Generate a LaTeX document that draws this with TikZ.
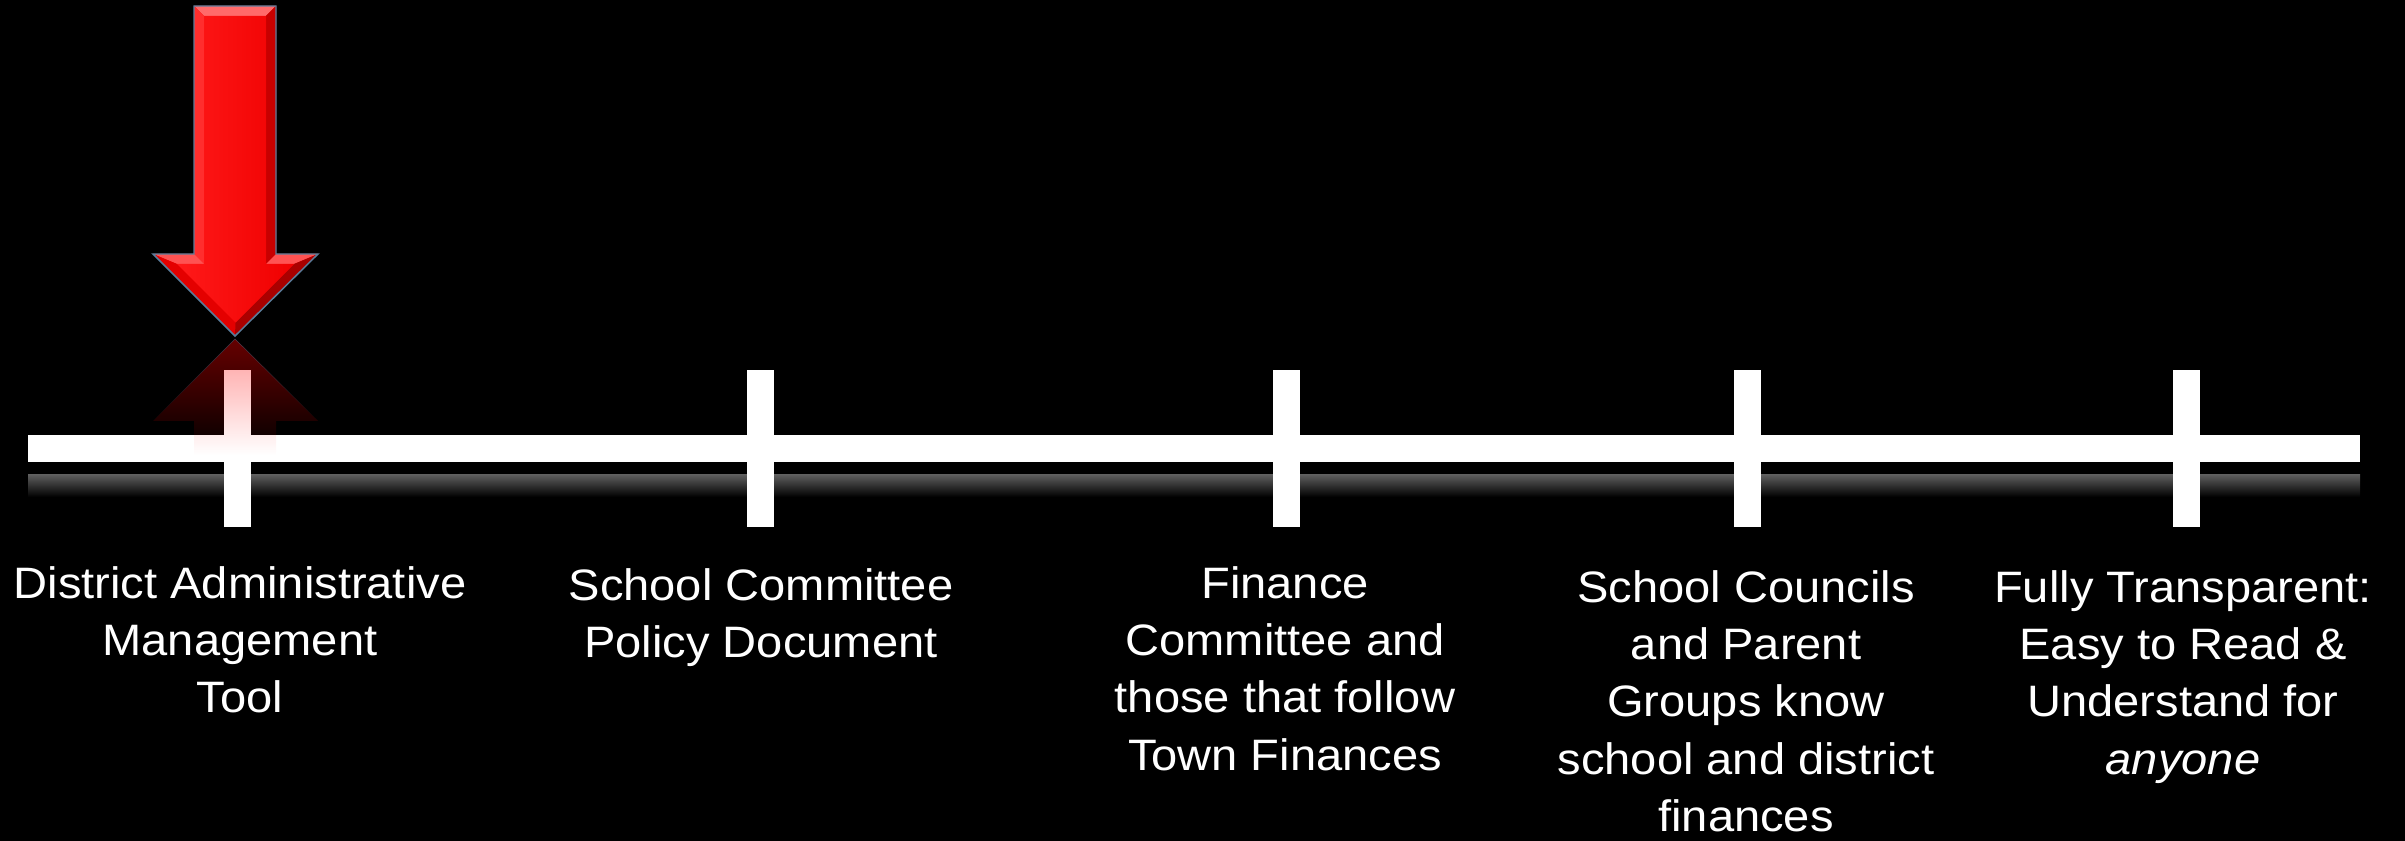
\documentclass[tikz,border=0pt]{standalone}
\usepackage{fontspec}
\setmainfont{Liberation Sans}[FakeStretch=1.07]
\usetikzlibrary{fadings}

\definecolor{barshine}{gray}{0.38}
\definecolor{arrowedge}{HTML}{5A7C9A}
\definecolor{arrowred}{HTML}{F00000}
\definecolor{arrowtop}{HTML}{FF6A6A}
\definecolor{arrowleft}{HTML}{FF2E2E}
\definecolor{arrowright}{HTML}{C80000}
\definecolor{arrowshoulder}{HTML}{FF5252}
\definecolor{arrowheadleft}{HTML}{E40000}
\definecolor{arrowheadright}{HTML}{AA0000}

\tikzfading[name=mirror fade, top color=transparent!0, bottom color=transparent!100]

\begin{document}
\begin{tikzpicture}[x=0.75pt, y=-0.75pt]
        \tikzstyle{every node}=[text=white, inner sep=0pt, align=center, font=\fontsize{33}{43}\selectfont]
        \tikzstyle{tick}=[fill=white, minimum width=20.25pt, minimum height=117.75pt]
        \tikzstyle{stage}=[anchor=north]
        \fill[black] (0,0) rectangle (2405,841);
        \useasboundingbox (0,0) rectangle (2405,841);

        % time bar, its shine and the ticks
        \shade[top color=barshine, bottom color=black] (28,474) rectangle (2360,497);
        \coordinate (start) at (28,448.5);
        \coordinate (end) at (2360,448.5);
        \draw[white, line width=20.25pt] (start) -- (end);
        \foreach \x [count=\i] in {237,760,1286,1747,2186}
            \node[tick] (tick\i) at (\x,448.5) {};

        % mirror image of the marker
        \fill[red, fill opacity=0.4, path fading=mirror fade] (235,339) -- (318,421) -- (276,421) -- (276,455) -- (194,455) -- (194,421) -- (153,421) -- cycle;
        \draw[arrowedge, draw opacity=0.5, path fading=mirror fade] (153,421) -- (235,339) -- (318,421);

        % marker arrow
        \fill[arrowred] (194,6) -- (276,6) -- (276,254) -- (318,254) -- (235,336) -- (153,254) -- (194,254) -- cycle;
        \fill[arrowtop] (194,6) -- (276,6) -- (266,16) -- (204,16) -- cycle;
        \fill[arrowleft] (194,6) -- (204,16) -- (204,264) -- (194,254) -- cycle;
        \fill[arrowright] (276,6) -- (276,254) -- (266,264) -- (266,16) -- cycle;
        \fill[arrowshoulder] (194,254) -- (204,264) -- (177,264) -- (153,254) -- cycle;
        \fill[arrowshoulder] (276,254) -- (318,254) -- (294,264) -- (266,264) -- cycle;
        \fill[arrowheadleft] (153,254) -- (177,264) -- (235.5,322.5) -- (235,336) -- cycle;
        \fill[arrowheadright] (318,254) -- (235,336) -- (235.5,322.5) -- (294,264) -- cycle;
        \shade[left color=red!90!white, right color=arrowred] (204,16) -- (266,16) -- (266,264) -- (294,264) -- (235.5,322.5) -- (177,264) -- (204,264) -- cycle;
        \draw[arrowedge, line width=1.1pt] (194,6) -- (276,6) -- (276,254) -- (318,254) -- (235,336) -- (153,254) -- (194,254) -- cycle;
        \coordinate (marker) at (235,336);

        \node[stage] (stage1) at (240,566) {District Administrative\\Management\\Tool};
        \node[stage] (stage2) at (761,568) {School Committee\\Policy Document};
        \node[stage] (stage3) at (1285,566) {Finance\\Committee and\\those that follow\\Town Finances};
        \node[stage] (stage4) at (1746,570) {School Councils\\and Parent\\Groups know\\school and district\\finances};
        \node[stage] (stage5) at (2183,570) {Fully Transparent:\\Easy to Read \&\\Understand for\\\textit{anyone}};
    \end{tikzpicture}
\end{document}
